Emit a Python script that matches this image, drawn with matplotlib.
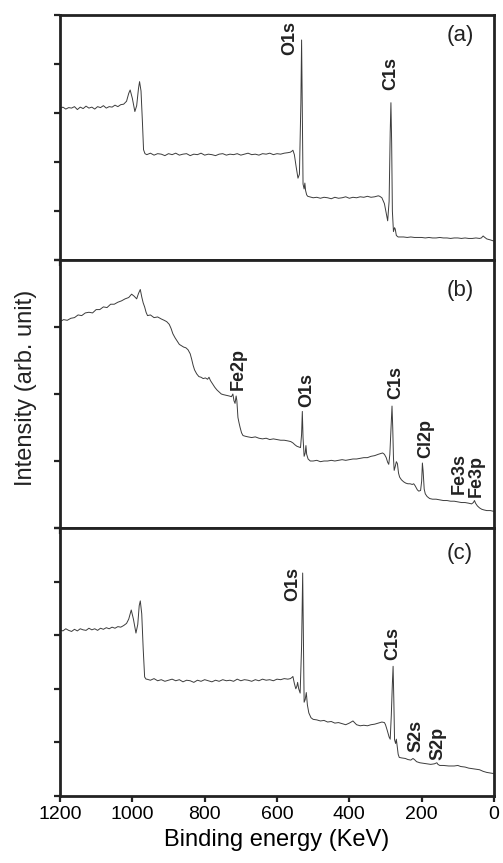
import matplotlib
matplotlib.use("Agg")
import matplotlib.pyplot as plt

plt.rcParams['font.family'] = ['Liberation Sans', 'DejaVu Sans']

# ---------------- Panel (a) ----------------
energy_a = [1200, 1192, 1184, 1176, 1168, 1160, 1152, 1144, 1136, 1128, 1120, 1112, 1104, 1096, 1088, 1080,
            1072, 1064, 1056, 1048, 1040, 1032, 1024, 1016,
            1010, 1006, 1000, 993, 988, 983, 980, 976, 972, 969, 965,
            960, 950, 940, 930, 920, 910, 900, 890, 880, 870, 860, 850, 840, 830, 820, 810, 800, 790, 780, 770,
            760, 750, 740, 730, 720, 710, 700, 690, 680, 670, 660, 650, 640, 630, 620, 610, 600, 590, 580, 570,
            563, 559, 556, 552, 547, 542, 538, 534, 532, 530, 528, 525, 523, 521, 518, 515,
            510, 500, 490, 480, 470, 460, 450, 440, 430, 420, 410, 400, 390, 380, 370, 360, 350, 340, 330, 320,
            316, 310, 303, 298, 294, 290, 287, 285, 283, 281, 278, 275, 273, 270, 265,
            260, 250, 240, 230, 220, 210, 200, 190, 180, 170, 160, 150, 140, 130, 120, 110, 100, 90, 80, 70, 60, 50, 40,
            35, 30, 27, 20, 10, 2]
intensity_a = [3.09, 3.12, 3.08, 3.11, 3.10, 3.13, 3.07, 3.12, 3.09, 3.14, 3.10, 3.12, 3.08, 3.13, 3.11, 3.15,
               3.10, 3.13, 3.12, 3.16, 3.13, 3.17, 3.18, 3.24,
               3.40, 3.47, 3.30, 3.03, 3.15, 3.50, 3.64, 3.45, 2.80, 2.25, 2.17,
               2.15, 2.18, 2.14, 2.17, 2.16, 2.13, 2.17, 2.15, 2.18, 2.14, 2.16, 2.17, 2.13, 2.16, 2.15, 2.18, 2.14, 2.16, 2.15, 2.13,
               2.16, 2.17, 2.14, 2.16, 2.15, 2.17, 2.14, 2.16, 2.18, 2.15, 2.16, 2.14, 2.17, 2.16, 2.18, 2.15, 2.17, 2.16, 2.18, 2.19,
               2.20, 2.22, 2.24, 2.15, 1.90, 1.67, 1.75, 3.20, 4.49, 3.00, 1.55, 1.45, 1.57, 1.42, 1.33, 1.30,
               1.29, 1.27, 1.28, 1.26, 1.28, 1.27, 1.25, 1.28, 1.26, 1.27, 1.29, 1.26, 1.28, 1.27, 1.29, 1.28, 1.30, 1.28, 1.29, 1.31,
               1.30, 1.27, 1.15, 0.95, 0.80, 1.20, 2.60, 3.21, 2.40, 1.00, 0.58, 0.66, 0.63, 0.50, 0.47,
               0.47, 0.47, 0.46, 0.47, 0.46, 0.46, 0.46, 0.45, 0.46, 0.45, 0.45, 0.46, 0.45, 0.45, 0.44, 0.45, 0.45, 0.44, 0.45, 0.44, 0.44, 0.45, 0.44,
               0.45, 0.49, 0.47, 0.43, 0.41, 0.39]

# ---------------- Panel (b) ----------------
energy_b = [1200, 1190, 1180, 1170, 1160, 1150, 1140, 1130, 1120, 1110, 1100, 1090, 1080, 1070, 1060, 1050, 1040, 1030, 1020, 1010,
            1002, 995, 988, 983, 978, 974, 970, 966, 962, 958, 950, 940, 930, 920, 912, 905, 898, 893, 888, 882,
            876, 870, 864, 858, 852, 846, 840, 836, 832, 828, 822, 816, 810, 804, 798, 792, 788, 784, 778, 772,
            766, 760, 754, 748, 740, 732, 726, 722, 719, 716, 713, 711, 708, 705, 702, 698, 694, 688,
            680, 670, 660, 650, 640, 630, 620, 610, 600, 590, 580, 570, 562, 556, 550, 545, 540, 535, 532, 530,
            528, 525, 522, 520, 518, 514, 508,
            500, 490, 480, 470, 460, 450, 440, 430, 420, 410, 400, 390, 380, 370, 360, 350, 340, 330, 320,
            314, 308, 303, 298, 294, 291, 288, 285, 282, 280, 278, 276, 273, 270, 267, 264, 261, 256, 250, 244,
            238, 232, 226, 222, 218, 212, 208, 203, 200, 198, 196, 193, 190, 185, 178,
            170, 160, 150, 140, 130, 120, 110, 100, 90, 80, 70, 62, 57, 54, 51, 46, 40, 34, 28, 20, 10, 2]
intensity_b = [3.08, 3.11, 3.10, 3.13, 3.14, 3.18, 3.17, 3.21, 3.22, 3.21, 3.26, 3.26, 3.30, 3.29, 3.34, 3.34, 3.37, 3.39, 3.42, 3.44,
               3.49, 3.46, 3.42, 3.50, 3.56, 3.45, 3.36, 3.30, 3.22, 3.17, 3.18, 3.14, 3.15, 3.12, 3.10, 3.08, 3.04, 2.98, 2.90, 2.84,
               2.79, 2.74, 2.72, 2.70, 2.69, 2.66, 2.60, 2.52, 2.43, 2.36, 2.30, 2.26, 2.25, 2.23, 2.24, 2.22, 2.25, 2.20, 2.15, 2.10,
               2.06, 2.03, 2.00, 1.99, 1.98, 1.97, 1.96, 2.00, 1.90, 1.86, 1.97, 1.90, 1.65, 1.57, 1.50, 1.42, 1.38, 1.37,
               1.36, 1.35, 1.36, 1.34, 1.33, 1.34, 1.32, 1.33, 1.32, 1.31, 1.31, 1.30, 1.29, 1.27, 1.24, 1.22, 1.21, 1.20, 1.40, 1.74,
               1.35, 1.07, 1.12, 1.23, 1.10, 1.03, 1.00,
               1.00, 1.01, 0.99, 1.00, 1.00, 1.01, 1.00, 1.01, 1.02, 1.01, 1.02, 1.03, 1.03, 1.04, 1.05, 1.05, 1.07, 1.08, 1.10,
               1.11, 1.12, 1.10, 1.05, 0.98, 0.95, 1.10, 1.45, 1.82, 1.50, 1.05, 0.86, 0.92, 0.99, 0.96, 0.82, 0.76, 0.72, 0.69, 0.67,
               0.66, 0.66, 0.65, 0.66, 0.63, 0.57, 0.55, 0.56, 0.70, 0.97, 0.85, 0.58, 0.51, 0.47, 0.44,
               0.43, 0.43, 0.42, 0.41, 0.41, 0.40, 0.40, 0.39, 0.38, 0.38, 0.37, 0.36, 0.38, 0.41, 0.37, 0.33, 0.30, 0.28, 0.27, 0.26, 0.26, 0.25]

# ---------------- Panel (c) ----------------
energy_c = [1200, 1192, 1184, 1176, 1168, 1160, 1152, 1144, 1136, 1128, 1120, 1112, 1104, 1096, 1088, 1080,
            1072, 1064, 1056, 1048, 1040, 1032, 1024, 1016,
            1010, 1003, 997, 990, 985, 981, 978, 974, 970, 966, 962,
            960, 950, 940, 930, 920, 910, 900, 890, 880, 870, 860, 850, 840, 830, 820, 810, 800, 790, 780, 770,
            760, 750, 740, 730, 720, 710, 700, 690, 680, 670, 660, 650, 640, 630, 620, 610, 600, 590, 580, 570,
            563, 559, 556, 552, 548, 545, 543, 540, 536, 532, 529, 527, 525, 522, 519, 516, 512, 506,
            500, 490, 480, 470, 460, 450, 440, 430, 420, 410, 400, 390, 380, 370, 360, 350, 340, 330, 320, 310,
            303, 300, 295, 290, 287, 284, 281, 279, 277, 275, 272, 270, 268, 265, 262,
            255, 245, 238, 230, 224, 220, 214, 205, 195, 185, 175, 165, 158, 155, 150, 140, 125, 110, 100, 92,
            80, 70, 60, 50, 40, 30, 20, 10, 2]
intensity_c = [3.10, 3.08, 3.12, 3.09, 3.07, 3.11, 3.08, 3.12, 3.10, 3.09, 3.13, 3.10, 3.12, 3.09, 3.13, 3.11,
               3.14, 3.12, 3.15, 3.13, 3.16, 3.15, 3.18, 3.22,
               3.30, 3.47, 3.30, 3.04, 3.20, 3.55, 3.64, 3.40, 2.75, 2.22, 2.18,
               2.18, 2.16, 2.19, 2.15, 2.17, 2.14, 2.16, 2.18, 2.15, 2.17, 2.13, 2.16, 2.15, 2.12, 2.16, 2.14, 2.17, 2.15, 2.13, 2.16,
               2.14, 2.17, 2.15, 2.16, 2.14, 2.18, 2.15, 2.17, 2.16, 2.14, 2.17, 2.15, 2.18, 2.16, 2.17, 2.15, 2.18, 2.17, 2.19, 2.18,
               2.19, 2.21, 2.23, 2.10, 2.00, 2.05, 2.12, 2.00, 1.92, 2.80, 4.16, 3.00, 1.75, 1.80, 1.93, 1.70, 1.55, 1.46,
               1.43, 1.42, 1.40, 1.41, 1.38, 1.39, 1.36, 1.37, 1.35, 1.33, 1.36, 1.40, 1.33, 1.31, 1.32, 1.31, 1.33, 1.34, 1.36, 1.38,
               1.37, 1.33, 1.22, 1.10, 1.06, 1.50, 2.10, 2.42, 1.80, 1.05, 0.98, 1.06, 0.95, 0.78, 0.72,
               0.71, 0.70, 0.68, 0.67, 0.70, 0.68, 0.64, 0.62, 0.61, 0.60, 0.59, 0.60, 0.62, 0.59, 0.57, 0.57, 0.56, 0.56, 0.57, 0.55,
               0.54, 0.52, 0.51, 0.50, 0.49, 0.46, 0.44, 0.43, 0.42]

assert len(energy_a) == len(intensity_a), (len(energy_a), len(intensity_a))
assert len(energy_b) == len(intensity_b), (len(energy_b), len(intensity_b))
assert len(energy_c) == len(intensity_c), (len(energy_c), len(intensity_c))

# peak labels: (text, energy, intensity at label bottom)
labels_a = [("O1s", 564, 4.18), ("C1s", 285, 3.47)]
labels_b = [("Fe2p", 706, 2.06), ("O1s", 517, 1.80), ("C1s", 271, 1.93),
            ("Cl2p", 188, 1.04), ("Fe3s", 97, 0.51), ("Fe3p", 50, 0.47)]
labels_c = [("O1s", 556, 3.63), ("C1s", 281, 2.54), ("S2s", 216, 0.83), ("S2p", 155, 0.67)]

panel_names = ["(a)", "(b)", "(c)"]
x_ticks = [1200, 1000, 800, 600, 400, 200, 0]

W, H = 503, 863
fig = plt.figure(figsize=(W / 100, H / 100), dpi=100)
left = 60 / W
width = (494 - 60) / W
bounds = [(15, 260), (260, 528), (528, 796)]
ymaxes = [5, 4, 5]
datasets = [(energy_a, intensity_a, labels_a), (energy_b, intensity_b, labels_b),
            (energy_c, intensity_c, labels_c)]
letter_y = [4.59, 3.55, 4.53]

axes = []
for i, ((top, bot), ymax, (en, inten, labs)) in enumerate(zip(bounds, ymaxes, datasets)):
    ax = fig.add_axes([left, 1 - bot / H, width, (bot - top) / H])
    ax.plot(en, inten, color='#3c3c3c', lw=0.7)
    ax.set_xlim(1200, 0)
    ax.set_ylim(0, ymax)
    ax.set_yticks(range(0, ymax + 1))
    ax.set_yticklabels([])
    ax.set_xticks(x_ticks)
    for s in ax.spines.values():
        s.set_linewidth(2.0)
        s.set_color('#222222')
    ax.tick_params(axis='both', direction='out', length=4.5, width=1.6, color='#222222')
    if i < 2:
        ax.set_xticklabels([])
    else:
        ax.set_xticklabels([str(t) for t in x_ticks], fontsize=14)
        ax.tick_params(axis='x', pad=3)
        ax.set_xlabel("Binding energy (KeV)", fontsize=17, labelpad=4)
    for txt, e, v in labs:
        ax.text(e, v, txt, rotation=90, ha='center', va='bottom', fontsize=13,
                fontweight='bold', color='#222222')
    ax.text(94, letter_y[i], panel_names[i], ha='center', va='center', fontsize=16, color='#222222')
    axes.append(ax)

fig.text(26 / W, 1 - 388 / H, "Intensity (arb. unit)", rotation=90, ha='center', va='center',
         fontsize=17, color='#222222')

fig.savefig("out.png", dpi=100)
